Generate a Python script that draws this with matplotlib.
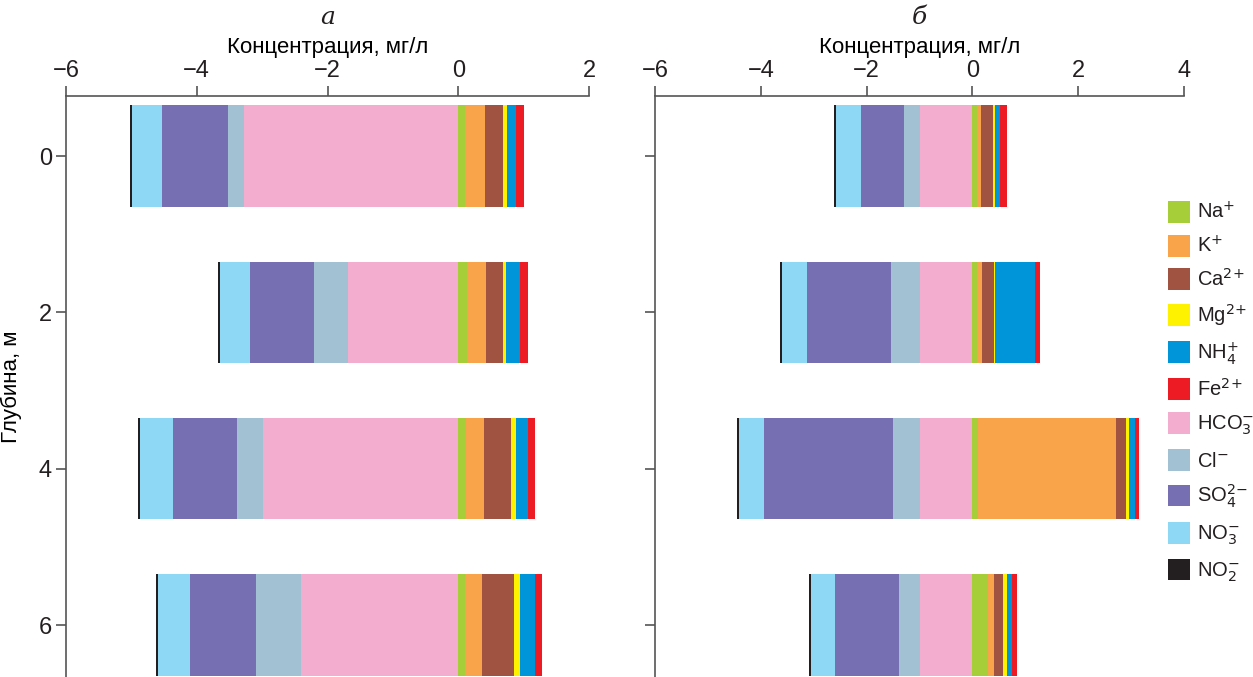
import matplotlib
matplotlib.use("Agg")
import matplotlib.pyplot as plt
import matplotlib.patches as mpatches
import numpy as np

plt.rcParams['font.family'] = ['Liberation Sans Narrow', 'Liberation Sans', 'DejaVu Sans']
plt.rcParams['mathtext.fontset'] = 'custom'
plt.rcParams['mathtext.rm'] = 'Liberation Sans Narrow'
plt.rcParams['mathtext.it'] = 'Liberation Sans Narrow'
plt.rcParams['text.color'] = '#231f20'

depths = [0, 2, 4, 6]

# cations, mg/l (panel а)
na_a = [0.10, 0.13, 0.12, 0.10]
k_a = [0.31, 0.29, 0.27, 0.27]
ca_a = [0.27, 0.26, 0.41, 0.49]
mg_a = [0.06, 0.05, 0.08, 0.08]
nh4_a = [0.14, 0.21, 0.18, 0.23]
fe_a = [0.12, 0.12, 0.12, 0.11]
# anions, mg/l (panel а), drawn to the left of zero
hco3_a = [3.28, 1.68, 2.98, 2.40]
cl_a = [0.24, 0.52, 0.41, 0.69]
so4_a = [1.01, 0.98, 0.98, 1.01]
no3_a = [0.46, 0.47, 0.50, 0.49]
no2_a = [0.03, 0.03, 0.03, 0.03]

# panel б
na_b = [0.08, 0.09, 0.11, 0.30]
k_b = [0.09, 0.09, 2.60, 0.11]
ca_b = [0.21, 0.23, 0.19, 0.17]
mg_b = [0.04, 0.02, 0.06, 0.08]
nh4_b = [0.11, 0.76, 0.11, 0.08]
fe_b = [0.13, 0.08, 0.08, 0.11]
hco3_b = [1.00, 1.00, 1.00, 0.99]
cl_b = [0.30, 0.53, 0.51, 0.40]
so4_b = [0.80, 1.59, 2.43, 1.21]
no3_b = [0.47, 0.47, 0.47, 0.45]
no2_b = [0.04, 0.04, 0.04, 0.04]

cation_names = [r'Na$^{+}$', r'K$^{+}$', r'Ca$^{2}$$^{+}$', r'Mg$^{2}$$^{+}$', r'NH$_4^{+}$', r'Fe$^{2}$$^{+}$']
anion_names = [r'HCO$_3^{-}$', r'Cl$^{-}$', r'SO$_4^{2}$$^{-}$', r'NO$_3^{-}$', r'NO$_2^{-}$']
cation_colors = ['#a6ce39', '#f9a34a', '#a05340', '#fff200', '#0095d9', '#ed1c24']
anion_colors = ['#f3aecf', '#a2c1d3', '#7670b3', '#8ed8f6', '#231f20']

panels = [
    ('а', [na_a, k_a, ca_a, mg_a, nh4_a, fe_a], [hco3_a, cl_a, so4_a, no3_a, no2_a], (-6, 2), [-6, -4, -2, 0, 2]),
    ('б', [na_b, k_b, ca_b, mg_b, nh4_b, fe_b], [hco3_b, cl_b, so4_b, no3_b, no2_b], (-6, 4), [-6, -4, -2, 0, 2, 4]),
]

fig = plt.figure(figsize=(12.53, 6.77), dpi=100)
axes = [fig.add_axes([66 / 1253, 0, 523 / 1253, 581 / 677]),
        fig.add_axes([655 / 1253, 0, 529 / 1253, 581 / 677])]

for i, (ax, (letter, cations, anions, xlim, xticks)) in enumerate(zip(axes, panels)):
    y = np.array(depths, dtype=float)
    left = np.zeros(len(depths))
    for vals, col in zip(cations, cation_colors):
        ax.barh(y, vals, left=left, height=1.3, color=col, linewidth=0)
        left += np.array(vals)
    left = np.zeros(len(depths))
    for vals, col in zip(anions, anion_colors):
        ax.barh(y, -np.array(vals), left=left, height=1.3, color=col, linewidth=0)
        left -= np.array(vals)

    ax.set_xlim(*xlim)
    ax.set_ylim(6.665, -0.768)
    ax.set_xticks(xticks)
    ax.set_yticks(depths)
    ax.xaxis.tick_top()
    ax.xaxis.set_label_position('top')
    ax.set_xlabel('Концентрация, мг/л', fontsize=16, labelpad=5)
    for side in ['right', 'bottom']:
        ax.spines[side].set_visible(False)
    for side in ['top', 'left']:
        ax.spines[side].set_color('#555555')
        ax.spines[side].set_linewidth(1.2)
    ax.tick_params(axis='both', colors='#555555', labelcolor='#231f20', labelsize=17, length=7, width=1.2, pad=3)
    if i == 0:
        ax.set_ylabel('Глубина, м', fontsize=16, labelpad=12)
    else:
        ax.tick_params(axis='y', labelleft=False)

    # panel letter above the axis label
    pos = ax.get_position()
    fig.text((pos.x0 + pos.x1) / 2, 1 - 18 / 677, letter, ha='center', va='center',
             fontsize=18, family=['DejaVu Serif'], style='italic')

handles = [mpatches.Patch(color=c, linewidth=0) for c in cation_colors + anion_colors]
fig.legend(handles, cation_names + anion_names, loc='upper left',
           bbox_to_anchor=(1160 / 1253, 1 - 193 / 677), frameon=False,
           fontsize=14.5, handlelength=1.1, handleheight=1.3, handletextpad=0.35,
           labelspacing=0.58, borderaxespad=0)

fig.savefig('out.png', dpi=100)
